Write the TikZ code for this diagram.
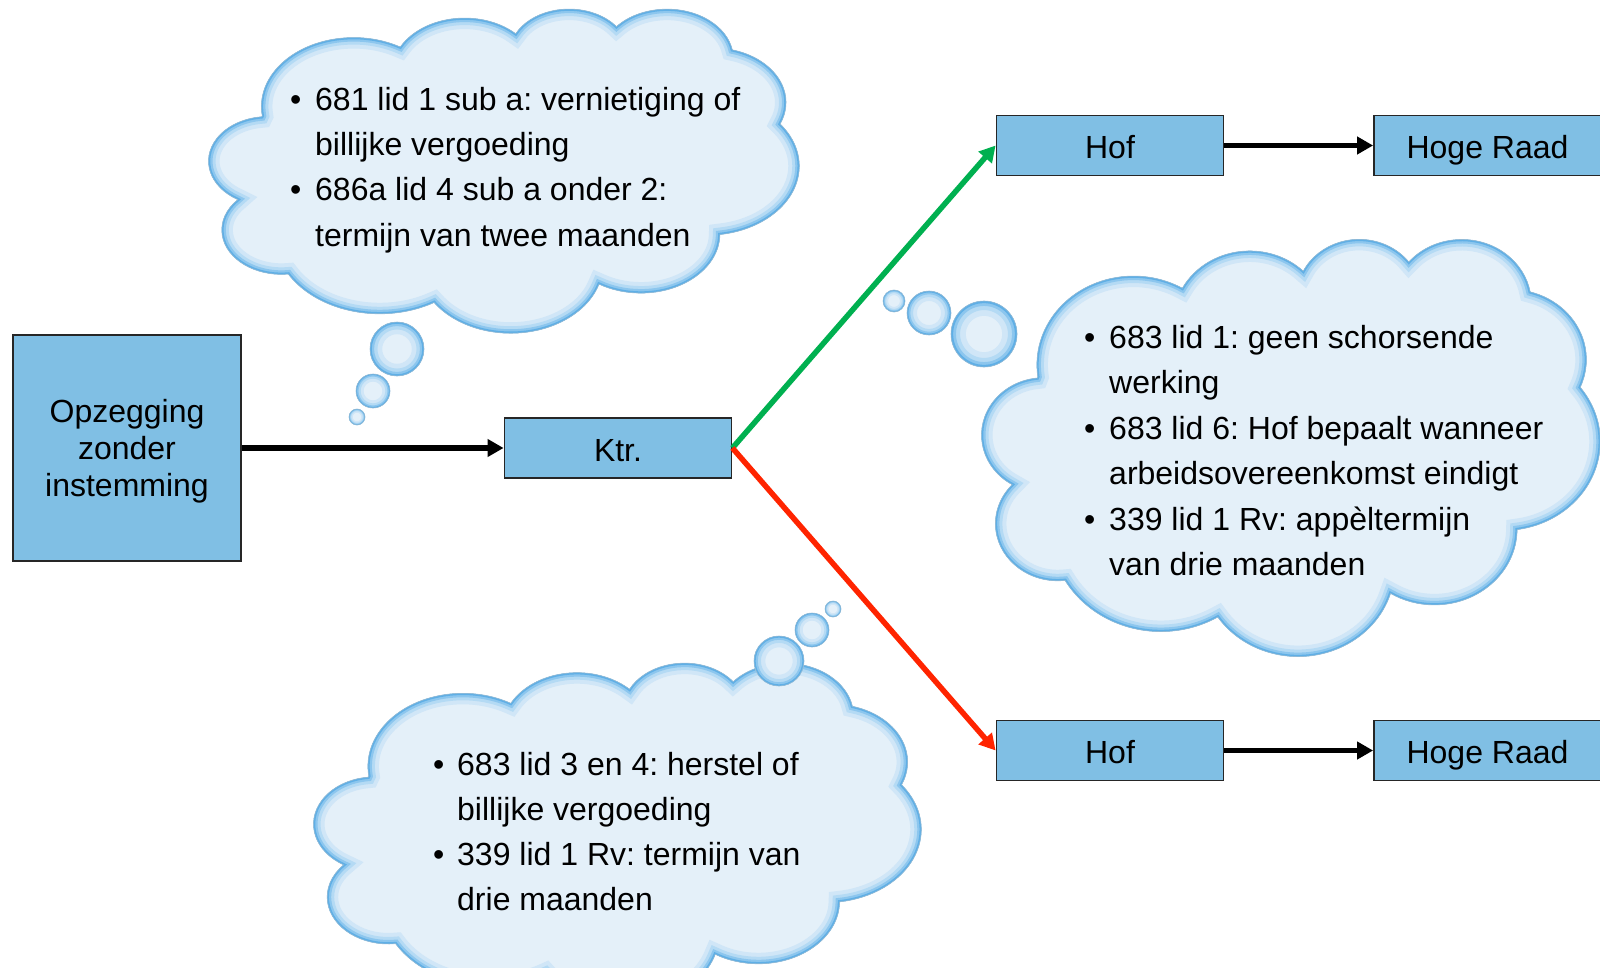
\documentclass[tikz,border=0pt]{standalone}
\usepackage{fontspec}
\setmainfont{Liberation Sans}
\usetikzlibrary{arrows.meta}
\frenchspacing
\definecolor{boxfill}{RGB}{128,191,228}
\definecolor{cloudfill}{RGB}{228,240,249}
\definecolor{rimA}{RGB}{95,175,230}
\definecolor{rimB}{RGB}{140,198,238}
\definecolor{rimC}{RGB}{180,218,244}
\definecolor{rimD}{RGB}{208,230,247}
\definecolor{arrowgreen}{RGB}{0,176,80}
\definecolor{arrowred}{RGB}{255,36,0}
% PowerPoint-like cloud outline in a 432 x 432 path space
\newcommand\cloudoutline{(39,143.7)
  arc[start angle=-187.74, delta angle=128.10, x radius=67.53, y radius=91.90]
  arc[start angle=-152.04, delta angle=106.60, x radius=53.33, y radius=72.67]
  arc[start angle=-153.49, delta angle=116.18, x radius=43.65, y radius=59.45]
  arc[start angle=-139.69, delta angle=129.48, x radius=48.57, y radius=65.95]
  arc[start angle=-74.77, delta angle=97.98, x radius=53.33, y radius=72.73]
  arc[start angle=-37.53, delta angle=119.39, x radius=67.75, y radius=92.20]
  arc[start angle=0.46, delta angle=121.51, x radius=57.85, y radius=78.67]
  arc[start angle=16.84, delta angle=129.42, x radius=67.52, y radius=92.15]
  arc[start angle=58.99, delta angle=91.20, x radius=77.20, y radius=105.43]
  arc[start angle=-276.69, delta angle=139.81, x radius=43.60, y radius=59.18]
  arc[start angle=-239.65, delta angle=143.76, x radius=43.45, y radius=59.45] -- cycle}
\newcommand\bevelcloud[4]{% left, top, width, height (px)
  \begin{scope}[shift={(#1pt,-#2pt)}, x=#3pt/432, y=-#4pt/432]
    \fill[cloudfill] \cloudoutline;
    \begin{scope}
      \clip \cloudoutline;
      \draw[rimD, line width=22pt] \cloudoutline;
      \draw[rimC, line width=14pt] \cloudoutline;
      \draw[rimB, line width=8pt] \cloudoutline;
      \draw[rimA, line width=3.5pt] \cloudoutline;
    \end{scope}
    \draw[rimA!80!black!60, line width=0.6pt] \cloudoutline;
  \end{scope}}
\begin{document}
\begin{tikzpicture}[x=1pt,y=-1pt,
  box/.style={draw=black!85, line width=1.8pt, fill=boxfill, inner sep=0pt,
    font=\fontsize{32}{37}\selectfont, align=center},
  smallbox/.style={box, minimum width=227pt, minimum height=60pt,
    text height=26pt, text depth=0pt},
  flow/.style={line width=5.5pt, -{Triangle[length=16pt,width=17pt]}},
  bubble/.style={circle, inner sep=0pt, minimum size=2*#1, fill=cloudfill,
    draw=rimA!80!black!60, line width=0.6pt,
    path picture={
      \draw[rimD, line width=0.9*#1] (path picture bounding box.center) circle[radius=#1];
      \draw[rimC, line width=0.55*#1] (path picture bounding box.center) circle[radius=#1];
      \draw[rimB, line width=0.3*#1] (path picture bounding box.center) circle[radius=#1];
      \draw[rimA, line width=0.13*#1] (path picture bounding box.center) circle[radius=#1];
    }},
  txt/.style={anchor=base west, inner sep=0pt, font=\fontsize{32}{45}\selectfont}]
\useasboundingbox (0,0) rectangle (1600,968);

% clouds
\bevelcloud{209}{8}{590}{324}
\bevelcloud{982}{238}{618}{417}
\bevelcloud{314}{662}{607}{343}

% bubbles
\node[bubble=27pt] (b11) at (397,349) {};
\node[bubble=17pt] (b12) at (373,391) {};
\node[bubble=8pt] (b13) at (357,417) {};
\node[bubble=33pt] (b21) at (984,334) {};
\node[bubble=22pt] (b22) at (929,313) {};
\node[bubble=11pt] (b23) at (894,301) {};
\node[bubble=25pt] (b31) at (779,661) {};
\node[bubble=17pt] (b32) at (812,630) {};
\node[bubble=8pt] (b33) at (833,609) {};

% boxes
\node[box, minimum width=228pt, minimum height=226pt] (opz) at (127,448) {};
\node[inner sep=0pt, font=\fontsize{32}{37}\selectfont, align=center] (opztext) at (127,451) {Opzegging\\zonder\\instemming};
\node[smallbox] (ktr) at (618,448) {Ktr.};
\node[smallbox] (hof1) at (1110,145.5) {Hof};
\node[smallbox] (hr1) at (1487.5,145.5) {Hoge Raad};
\node[smallbox] (hof2) at (1110,750.5) {Hof};
\node[smallbox] (hr2) at (1487.5,750.5) {Hoge Raad};

% connectors
\draw[flow] (opz.east) -- (ktr.west);
\draw[flow] (hof1.east) -- (hr1.west);
\draw[flow] (hof2.east) -- (hr2.west);
\draw[flow, arrowgreen] (ktr.east) -- (hof1.west);
\draw[flow, arrowred] (ktr.east) -- (hof2.west);

% cloud 1 text
\node[txt] (t1a) at (290,111) {•};
\node[txt] (t1b) at (315,111) {681 lid 1 sub a: vernietiging of};
\node[txt] (t1c) at (315,156) {billijke vergoeding};
\node[txt] (t1d) at (290,201) {•};
\node[txt] (t1e) at (315,201) {686a lid 4 sub a onder 2:};
\node[txt] (t1f) at (315,247) {termijn van twee maanden};

% cloud 2 text
\node[txt] (t2a) at (1084,348) {•};
\node[txt] (t2b) at (1109,348) {683 lid 1: geen schorsende};
\node[txt] (t2c) at (1109,393.5) {werking};
\node[txt] (t2d) at (1084,439) {•};
\node[txt] (t2e) at (1109,439) {683 lid 6: Hof bepaalt wanneer};
\node[txt] (t2f) at (1109,484.5) {arbeidsovereenkomst eindigt};
\node[txt] (t2g) at (1084,530) {•};
\node[txt] (t2h) at (1109,530) {339 lid 1 Rv: appèltermijn};
\node[txt] (t2i) at (1109,575.5) {van drie maanden};

% cloud 3 text
\node[txt] (t3a) at (433,775) {•};
\node[txt] (t3b) at (457,775) {683 lid 3 en 4: herstel of};
\node[txt] (t3c) at (457,820) {billijke vergoeding};
\node[txt] (t3d) at (433,865) {•};
\node[txt] (t3e) at (457,865) {339 lid 1 Rv: termijn van};
\node[txt] (t3f) at (457,910) {drie maanden};
\end{tikzpicture}
\end{document}
